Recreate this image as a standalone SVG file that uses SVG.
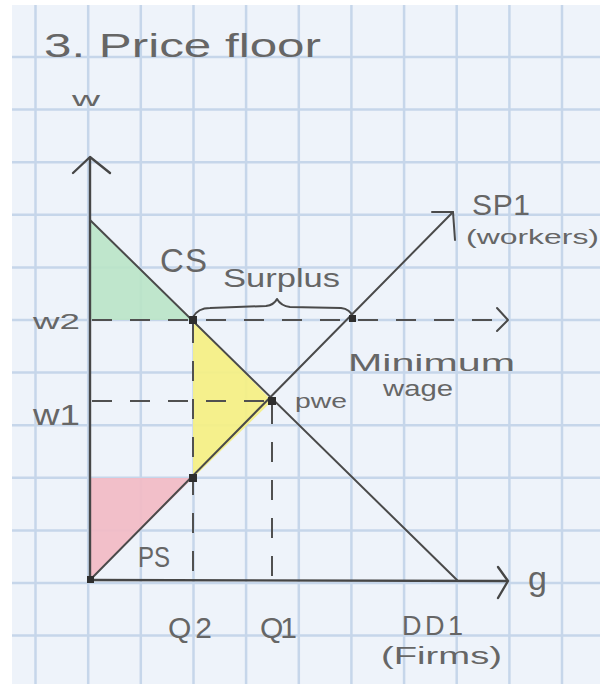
<svg xmlns="http://www.w3.org/2000/svg" width="600" height="684" viewBox="0 0 600 684">
<defs>
<style>
.grid line{stroke:#c6d6ea;stroke-width:2.5}
.ink{stroke:#464646;stroke-width:2.4;fill:none;stroke-linecap:round;stroke-linejoin:round}
.thin{stroke:#4a4a4a;stroke-width:2;fill:none;stroke-linecap:round;stroke-linejoin:round}
.dash{stroke:#505050;stroke-width:2;fill:none;stroke-dasharray:20 18}
.dot{fill:#2e2e2e}
text{font-family:"Liberation Sans","DejaVu Sans",sans-serif;fill:#666666}
</style>
</defs>
<rect x="0" y="0" width="600" height="684" fill="#ffffff"/>
<rect x="12" y="5" width="588" height="679" fill="#eef3fa"/>
<g id="grid" class="grid">
<line x1="35.5" y1="5" x2="35.5" y2="684"/>
<line x1="88.2" y1="5" x2="88.2" y2="684"/>
<line x1="140.8" y1="5" x2="140.8" y2="684"/>
<line x1="193.5" y1="5" x2="193.5" y2="684"/>
<line x1="246.1" y1="5" x2="246.1" y2="684"/>
<line x1="298.8" y1="5" x2="298.8" y2="684"/>
<line x1="351.4" y1="5" x2="351.4" y2="684"/>
<line x1="404.1" y1="5" x2="404.1" y2="684"/>
<line x1="456.7" y1="5" x2="456.7" y2="684"/>
<line x1="509.4" y1="5" x2="509.4" y2="684"/>
<line x1="562" y1="5" x2="562" y2="684"/>
<line x1="12" y1="57" x2="600" y2="57"/>
<line x1="12" y1="109.6" x2="600" y2="109.6"/>
<line x1="12" y1="162.2" x2="600" y2="162.2"/>
<line x1="12" y1="214.8" x2="600" y2="214.8"/>
<line x1="12" y1="267.4" x2="600" y2="267.4"/>
<line x1="12" y1="320" x2="600" y2="320"/>
<line x1="12" y1="372.6" x2="600" y2="372.6"/>
<line x1="12" y1="425.2" x2="600" y2="425.2"/>
<line x1="12" y1="477.8" x2="600" y2="477.8"/>
<line x1="12" y1="530.4" x2="600" y2="530.4"/>
<line x1="12" y1="583" x2="600" y2="583"/>
<line x1="12" y1="635.6" x2="600" y2="635.6"/>
</g>
<g id="areas">
<polygon id="cs-area" points="90,220 90,320 193,320" fill="#b9e4c6" fill-opacity="0.9"/>
<polygon id="dwl-area" points="193,320 272,401 193,478" fill="#f4ef86" fill-opacity="0.95"/>
<polygon id="ps-area" points="90,478 193,478 90,580" fill="#f1bcc6" fill-opacity="0.95"/>
</g>
<g id="connectors">
<line class="dash" x1="92" y1="320" x2="500" y2="320"/>
<polyline class="thin" points="497,308 508,320 497,331"/>
<line class="dash" x1="92" y1="401" x2="270" y2="401"/>
<line class="dash" x1="272" y1="404" x2="272" y2="578"/>
<line class="dash" x1="193" y1="323" x2="193" y2="578"/>
<line class="ink" x1="90" y1="580" x2="90" y2="158"/>
<polyline class="ink" points="73,173 90,157 110,173"/>
<line class="ink" x1="90" y1="580" x2="506" y2="581"/>
<polyline class="ink" points="498,567 508,581 498,598"/>
<line id="demand" class="thin" x1="90" y1="220" x2="457" y2="580"/>
<line id="supply" class="thin" x1="90" y1="580" x2="453" y2="212"/>
<polyline class="thin" points="432,212 453,212 455,240"/>
<path id="brace" class="thin" d="M193,317 Q198,308 210,308 L266,306 Q274,305 277,299 Q281,306 290,307 L341,308 Q350,309 353,317"/>
</g>
<g id="points">
<rect class="dot" x="189" y="316" width="8" height="8"/>
<rect class="dot" x="268" y="397" width="8" height="8"/>
<rect class="dot" x="189" y="474" width="8" height="8"/>
<rect class="dot" x="349" y="315" width="7" height="7"/>
<rect class="dot" x="87" y="576" width="7" height="7"/>
</g>
<g id="labels">
<text x="44" y="57" font-size="34" textLength="277" lengthAdjust="spacingAndGlyphs">3. Price floor</text>
<text x="72" y="106" font-size="21" textLength="28" lengthAdjust="spacingAndGlyphs">w</text>
<text x="472" y="215" font-size="30" textLength="58" lengthAdjust="spacing">SP1</text>
<text x="466" y="244" font-size="20" textLength="133" lengthAdjust="spacingAndGlyphs">(workers)</text>
<text x="160" y="272" font-size="33" textLength="47" lengthAdjust="spacing">CS</text>
<text x="223" y="287" font-size="25" textLength="117" lengthAdjust="spacingAndGlyphs">Surplus</text>
<text x="33" y="329" font-size="22" textLength="47" lengthAdjust="spacingAndGlyphs">w2</text>
<text x="348" y="371" font-size="24" textLength="167" lengthAdjust="spacingAndGlyphs">Minimum</text>
<text x="383" y="396" font-size="22" textLength="70" lengthAdjust="spacingAndGlyphs">wage</text>
<text x="33" y="425" font-size="30" textLength="47" lengthAdjust="spacingAndGlyphs">w1</text>
<text x="295" y="408" font-size="20" textLength="52" lengthAdjust="spacingAndGlyphs">pwe</text>
<text x="138" y="567" font-size="30" textLength="32" lengthAdjust="spacingAndGlyphs">PS</text>
<text x="528" y="590" font-size="34">g</text>
<text x="168" y="638" font-size="30" textLength="44" lengthAdjust="spacing">Q2</text>
<text x="260" y="638" font-size="30" textLength="37" lengthAdjust="spacing">Q1</text>
<text x="402" y="635" font-size="27" textLength="61" lengthAdjust="spacing">DD1</text>
<text x="381" y="664" font-size="23" textLength="121" lengthAdjust="spacingAndGlyphs">(Firms)</text>
</g>
</svg>
